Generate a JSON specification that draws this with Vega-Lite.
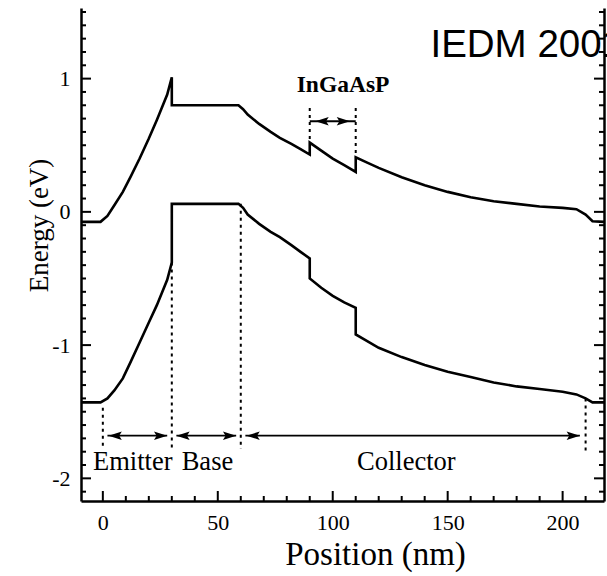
{
  "$schema": "https://vega.github.io/schema/vega-lite/v6.json",
  "width": 523,
  "height": 493,
  "autosize": {"type": "none"},
  "padding": {"left": 81, "top": 8, "right": 3, "bottom": 75},
  "background": "white",
  "config": {"view": {"stroke": null}},
  "datasets": {
    "bands": [
      {"b": "c", "i": 1, "x": -9.5, "E": -0.075}, {"b": "c", "i": 2, "x": -1, "E": -0.075}, {"b": "c", "i": 3, "x": 2, "E": -0.03},
      {"b": "c", "i": 4, "x": 5, "E": 0.05}, {"b": "c", "i": 5, "x": 8.7, "E": 0.15}, {"b": "c", "i": 6, "x": 12, "E": 0.26},
      {"b": "c", "i": 7, "x": 16, "E": 0.4}, {"b": "c", "i": 8, "x": 20, "E": 0.55}, {"b": "c", "i": 9, "x": 23.5, "E": 0.69},
      {"b": "c", "i": 10, "x": 28, "E": 0.88}, {"b": "c", "i": 11, "x": 30, "E": 1.01}, {"b": "c", "i": 12, "x": 30, "E": 0.8},
      {"b": "c", "i": 13, "x": 45, "E": 0.8}, {"b": "c", "i": 14, "x": 59, "E": 0.8}, {"b": "c", "i": 15, "x": 61, "E": 0.77},
      {"b": "c", "i": 16, "x": 63, "E": 0.73}, {"b": "c", "i": 17, "x": 68, "E": 0.66}, {"b": "c", "i": 18, "x": 73, "E": 0.6},
      {"b": "c", "i": 19, "x": 77, "E": 0.556}, {"b": "c", "i": 20, "x": 82, "E": 0.51}, {"b": "c", "i": 21, "x": 86, "E": 0.47},
      {"b": "c", "i": 22, "x": 90, "E": 0.43}, {"b": "c", "i": 23, "x": 90, "E": 0.52}, {"b": "c", "i": 24, "x": 95, "E": 0.46},
      {"b": "c", "i": 25, "x": 100, "E": 0.4}, {"b": "c", "i": 26, "x": 105, "E": 0.35}, {"b": "c", "i": 27, "x": 110, "E": 0.3},
      {"b": "c", "i": 28, "x": 110, "E": 0.41}, {"b": "c", "i": 29, "x": 115, "E": 0.37}, {"b": "c", "i": 30, "x": 120, "E": 0.33},
      {"b": "c", "i": 31, "x": 130, "E": 0.26}, {"b": "c", "i": 32, "x": 140, "E": 0.2}, {"b": "c", "i": 33, "x": 150, "E": 0.15},
      {"b": "c", "i": 34, "x": 160, "E": 0.11}, {"b": "c", "i": 35, "x": 170, "E": 0.08}, {"b": "c", "i": 36, "x": 180, "E": 0.06},
      {"b": "c", "i": 37, "x": 190, "E": 0.04}, {"b": "c", "i": 38, "x": 200, "E": 0.03}, {"b": "c", "i": 39, "x": 206, "E": 0.02},
      {"b": "c", "i": 40, "x": 210, "E": -0.02}, {"b": "c", "i": 41, "x": 213, "E": -0.07}, {"b": "c", "i": 42, "x": 218, "E": -0.075},
      {"b": "v", "i": 1, "x": -9.5, "E": -1.43}, {"b": "v", "i": 2, "x": -1, "E": -1.43}, {"b": "v", "i": 3, "x": 2, "E": -1.4},
      {"b": "v", "i": 4, "x": 5, "E": -1.34}, {"b": "v", "i": 5, "x": 8.7, "E": -1.25}, {"b": "v", "i": 6, "x": 12, "E": -1.13},
      {"b": "v", "i": 7, "x": 16, "E": -0.98}, {"b": "v", "i": 8, "x": 20, "E": -0.83}, {"b": "v", "i": 9, "x": 23.5, "E": -0.7},
      {"b": "v", "i": 10, "x": 28, "E": -0.51}, {"b": "v", "i": 11, "x": 30, "E": -0.38}, {"b": "v", "i": 12, "x": 30, "E": 0.06},
      {"b": "v", "i": 13, "x": 59, "E": 0.06}, {"b": "v", "i": 14, "x": 61, "E": 0.03}, {"b": "v", "i": 15, "x": 63, "E": -0.02},
      {"b": "v", "i": 16, "x": 68, "E": -0.09}, {"b": "v", "i": 17, "x": 73, "E": -0.15}, {"b": "v", "i": 18, "x": 77, "E": -0.19},
      {"b": "v", "i": 19, "x": 82, "E": -0.25}, {"b": "v", "i": 20, "x": 86, "E": -0.3}, {"b": "v", "i": 21, "x": 90, "E": -0.35},
      {"b": "v", "i": 22, "x": 90, "E": -0.5}, {"b": "v", "i": 23, "x": 95, "E": -0.57}, {"b": "v", "i": 24, "x": 100, "E": -0.63},
      {"b": "v", "i": 25, "x": 105, "E": -0.68}, {"b": "v", "i": 26, "x": 110, "E": -0.72}, {"b": "v", "i": 27, "x": 110, "E": -0.92},
      {"b": "v", "i": 28, "x": 115, "E": -0.97}, {"b": "v", "i": 29, "x": 120, "E": -1.02}, {"b": "v", "i": 30, "x": 130, "E": -1.09},
      {"b": "v", "i": 31, "x": 140, "E": -1.15}, {"b": "v", "i": 32, "x": 150, "E": -1.2}, {"b": "v", "i": 33, "x": 160, "E": -1.24},
      {"b": "v", "i": 34, "x": 170, "E": -1.28}, {"b": "v", "i": 35, "x": 180, "E": -1.31}, {"b": "v", "i": 36, "x": 190, "E": -1.33},
      {"b": "v", "i": 37, "x": 200, "E": -1.35}, {"b": "v", "i": 38, "x": 206, "E": -1.37}, {"b": "v", "i": 39, "x": 210, "E": -1.4},
      {"b": "v", "i": 40, "x": 213, "E": -1.43}, {"b": "v", "i": 41, "x": 218, "E": -1.43}
    ],
    "dashes": [
      {"x": 0, "E1": -1.47, "E2": -1.78},
      {"x": 30, "E1": -0.38, "E2": -1.78},
      {"x": 60, "E1": 0.06, "E2": -1.78},
      {"x": 210, "E1": -1.4, "E2": -1.82},
      {"x": 90, "E1": 0.78, "E2": 0.52},
      {"x": 110, "E1": 0.78, "E2": 0.41}
    ],
    "spans": [
      {"x1": 2, "x2": 28, "E": -1.68},
      {"x1": 32, "x2": 58, "E": -1.68},
      {"x1": 62, "x2": 207.5, "E": -1.68},
      {"x1": 90, "x2": 110, "E": 0.68}
    ],
    "heads": [
      {"x": 2.5, "E": -1.68, "dir": "left"}, {"x": 28, "E": -1.68, "dir": "right"},
      {"x": 32, "E": -1.68, "dir": "left"}, {"x": 58, "E": -1.68, "dir": "right"},
      {"x": 62.5, "E": -1.68, "dir": "left"}, {"x": 207.5, "E": -1.68, "dir": "right"},
      {"x": 92.5, "E": 0.68, "dir": "left"}, {"x": 107.5, "E": 0.68, "dir": "right"}
    ],
    "labels": [
      {"x": 13, "E": -1.88, "t": "Emitter"},
      {"x": 45.5, "E": -1.88, "t": "Base"},
      {"x": 132, "E": -1.88, "t": "Collector"}
    ],
    "xticks": [
      {"v": 0, "m": "major"}, {"v": 10, "m": "minor"}, {"v": 20, "m": "minor"}, {"v": 30, "m": "minor"}, {"v": 40, "m": "minor"},
      {"v": 50, "m": "major"}, {"v": 60, "m": "minor"}, {"v": 70, "m": "minor"}, {"v": 80, "m": "minor"}, {"v": 90, "m": "minor"},
      {"v": 100, "m": "major"}, {"v": 110, "m": "minor"}, {"v": 120, "m": "minor"}, {"v": 130, "m": "minor"}, {"v": 140, "m": "minor"},
      {"v": 150, "m": "major"}, {"v": 160, "m": "minor"}, {"v": 170, "m": "minor"}, {"v": 180, "m": "minor"}, {"v": 190, "m": "minor"},
      {"v": 200, "m": "major"}, {"v": 210, "m": "minor"}
    ],
    "yticks": [
      {"v": -2.1, "m": "minor"}, {"v": -2, "m": "major"}, {"v": -1.9, "m": "minor"}, {"v": -1.8, "m": "minor"}, {"v": -1.7, "m": "minor"},
      {"v": -1.6, "m": "minor"}, {"v": -1.5, "m": "minor"}, {"v": -1.4, "m": "minor"}, {"v": -1.3, "m": "minor"}, {"v": -1.2, "m": "minor"},
      {"v": -1.1, "m": "minor"}, {"v": -1, "m": "major"}, {"v": -0.9, "m": "minor"}, {"v": -0.8, "m": "minor"}, {"v": -0.7, "m": "minor"},
      {"v": -0.6, "m": "minor"}, {"v": -0.5, "m": "minor"}, {"v": -0.4, "m": "minor"}, {"v": -0.3, "m": "minor"}, {"v": -0.2, "m": "minor"},
      {"v": -0.1, "m": "minor"}, {"v": 0, "m": "major"}, {"v": 0.1, "m": "minor"}, {"v": 0.2, "m": "minor"}, {"v": 0.3, "m": "minor"},
      {"v": 0.4, "m": "minor"}, {"v": 0.5, "m": "minor"}, {"v": 0.6, "m": "minor"}, {"v": 0.7, "m": "minor"}, {"v": 0.8, "m": "minor"},
      {"v": 0.9, "m": "minor"}, {"v": 1, "m": "major"}, {"v": 1.1, "m": "minor"}, {"v": 1.2, "m": "minor"}, {"v": 1.3, "m": "minor"},
      {"v": 1.4, "m": "minor"}, {"v": 1.5, "m": "minor"}
    ]
  },
  "resolve": {"axis": {"x": "independent", "y": "independent"}},
  "layer": [
    {
      "data": {"name": "bands"},
      "mark": {"type": "line", "color": "black", "strokeWidth": 2.6, "strokeJoin": "miter", "clip": true},
      "encoding": {
        "x": {
          "field": "x", "type": "quantitative",
          "scale": {"domain": [-9.5, 218], "nice": false, "zero": false},
          "axis": {
            "orient": "bottom",
            "values": [0, 50, 100, 150, 200],
            "ticks": false, "tickSize": 0, "grid": false,
            "domainColor": "black", "domainWidth": 2.5,
            "labelFont": "Liberation Serif", "labelFontSize": 22, "labelColor": "black", "labelPadding": 11,
            "labelFlush": false, "labelOverlap": false,
            "title": "Position (nm)",
            "titleFont": "Liberation Serif", "titleFontSize": 33, "titleFontWeight": "normal", "titleColor": "black",
            "titleX": 294, "titleY": 37, "titleAnchor": null, "titleAlign": "center", "titleBaseline": "top"
          }
        },
        "y": {
          "field": "E", "type": "quantitative",
          "scale": {"domain": [-2.17, 1.53], "nice": false, "zero": false},
          "axis": {
            "orient": "left",
            "values": [-2, -1, 0, 1],
            "labelExpr": "toString(datum.value)",
            "ticks": false, "tickSize": 0, "grid": false,
            "domainColor": "black", "domainWidth": 2.5,
            "labelFont": "Liberation Serif", "labelFontSize": 22, "labelColor": "black", "labelPadding": 11,
            "labelFlush": false, "labelOverlap": false,
            "title": "Energy (eV)",
            "titleFont": "Liberation Serif", "titleFontSize": 27, "titleFontWeight": "normal", "titleColor": "black",
            "titleX": -42, "titleY": 217, "titleAngle": -90, "titleAnchor": null, "titleAlign": "center", "titleBaseline": "middle"
          }
        },
        "detail": {"field": "b"},
        "order": {"field": "i", "type": "quantitative"}
      }
    },
    {
      "data": {"name": "dashes"},
      "mark": {"type": "rule", "color": "black", "strokeWidth": 2, "strokeDash": [3, 4]},
      "encoding": {
        "x": {"field": "x", "type": "quantitative", "axis": null},
        "y": {
          "field": "E1", "type": "quantitative",
          "axis": {
            "orient": "right",
            "values": [-2, -1, 0, 1],
            "labels": false, "title": null, "ticks": false, "tickSize": 0, "grid": false,
            "domain": true, "domainColor": "black", "domainWidth": 2.5
          }
        },
        "y2": {"field": "E2"}
      }
    },
    {
      "data": {"name": "xticks"},
      "mark": {"type": "tick", "orient": "vertical", "color": "black", "thickness": 2, "opacity": 1, "clip": true},
      "encoding": {
        "x": {"field": "v", "type": "quantitative", "axis": null},
        "y": {"datum": -2.17, "type": "quantitative", "axis": null},
        "size": {"field": "m", "type": "ordinal", "scale": {"domain": ["major", "minor"], "range": [20, 10]}, "legend": null}
      }
    },
    {
      "data": {"name": "yticks"},
      "mark": {"type": "tick", "orient": "horizontal", "color": "black", "thickness": 2, "opacity": 1, "clip": true},
      "encoding": {
        "y": {"field": "v", "type": "quantitative", "axis": null},
        "x": {"datum": -9.5, "type": "quantitative", "axis": null},
        "size": {"field": "m", "type": "ordinal", "scale": {"domain": ["major", "minor"], "range": [20, 10]}, "legend": null}
      }
    },
    {
      "data": {"name": "yticks"},
      "mark": {"type": "tick", "orient": "horizontal", "color": "black", "thickness": 2, "opacity": 1, "clip": true},
      "encoding": {
        "y": {"field": "v", "type": "quantitative", "axis": null},
        "x": {"datum": 218, "type": "quantitative", "axis": null},
        "size": {"field": "m", "type": "ordinal", "scale": {"domain": ["major", "minor"], "range": [20, 10]}, "legend": null}
      }
    },
    {
      "data": {"name": "spans"},
      "mark": {"type": "rule", "color": "black", "strokeWidth": 1.8},
      "encoding": {
        "x": {"field": "x1", "type": "quantitative", "axis": null},
        "x2": {"field": "x2"},
        "y": {"field": "E", "type": "quantitative", "axis": null}
      }
    },
    {
      "data": {"name": "heads"},
      "mark": {"type": "point", "filled": true, "color": "black", "size": 700, "opacity": 1},
      "encoding": {
        "x": {"field": "x", "type": "quantitative", "axis": null},
        "y": {"field": "E", "type": "quantitative", "axis": null},
        "shape": {
          "field": "dir", "type": "nominal", "legend": null,
          "scale": {"domain": ["left", "right"], "range": ["M0,0L1,-0.32L0.8,0L1,0.32Z", "M0,0L-1,-0.32L-0.8,0L-1,0.32Z"]}
        }
      }
    },
    {
      "data": {"name": "labels"},
      "mark": {"type": "text", "font": "Liberation Serif", "fontSize": 26.5, "color": "black", "align": "center", "baseline": "middle"},
      "encoding": {
        "x": {"field": "x", "type": "quantitative", "axis": null},
        "y": {"field": "E", "type": "quantitative", "axis": null},
        "text": {"field": "t"}
      }
    },
    {
      "data": {"values": [{"x": 104.5, "E": 0.955, "t": "InGaAsP"}]},
      "mark": {"type": "text", "font": "Liberation Serif", "fontSize": 23.5, "fontWeight": "bold", "color": "black", "align": "center", "baseline": "middle"},
      "encoding": {
        "x": {"field": "x", "type": "quantitative", "axis": null},
        "y": {"field": "E", "type": "quantitative", "axis": null},
        "text": {"field": "t"}
      }
    },
    {
      "data": {"values": [{"x": 142.5, "E": 1.165, "t": "IEDM 2001"}]},
      "mark": {"type": "text", "font": "Liberation Sans", "fontSize": 38.5, "color": "black", "align": "left", "baseline": "alphabetic"},
      "encoding": {
        "x": {"field": "x", "type": "quantitative", "axis": null},
        "y": {"field": "E", "type": "quantitative", "axis": null},
        "text": {"field": "t"}
      }
    }
  ]
}
